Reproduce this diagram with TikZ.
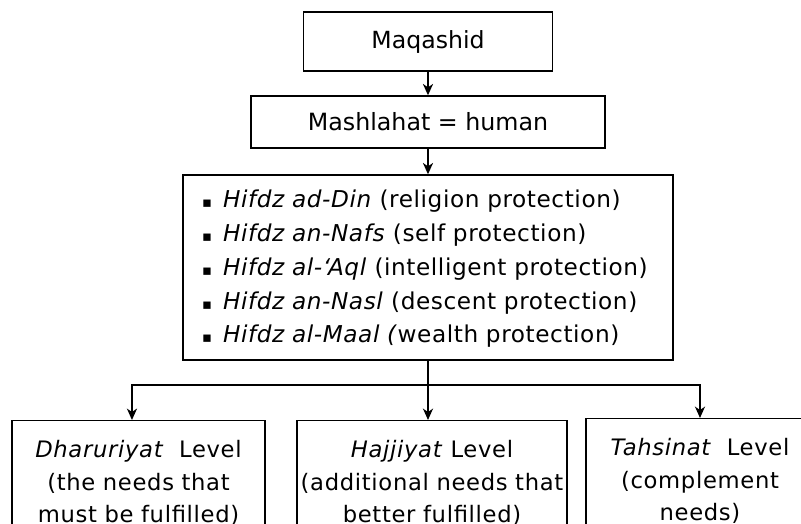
\documentclass[tikz,border=0pt]{standalone}
\usepackage{fontspec}
\setmainfont{DejaVu Sans}
\newfontfamily\listfont[LetterSpace=2.5]{DejaVu Sans}
\newfontfamily\levelfont[LetterSpace=3]{DejaVu Sans}
\usetikzlibrary{arrows.meta}
\newcommand{\sqbullet}{\makebox[15.75pt][l]{\fontsize{11}{11}\selectfont ▪}}

\begin{document}
\begin{tikzpicture}[x=0.75pt,y=-0.75pt,
    box/.style={draw, line width=1pt, inner sep=2pt},
    conn/.style={line width=1.5pt, -{Stealth[length=8.5pt,width=7.5pt,inset=2.5pt]}},
    level/.style={box, anchor=north, align=center, inner ysep=0pt,
        text height=27.75pt, text depth=100pt,
        font=\levelfont\fontsize{17}{24.4}\selectfont}]
    \useasboundingbox (0,0) rectangle (801,524);
    \clip (0,0) rectangle (801,524);

    % Draw nodes
    \node[box, minimum width=186.75pt, minimum height=44.25pt,
        font=\fontsize{17.7}{20}\selectfont] (maqashid) at (428,41.5) {Maqashid};
    \node[box, minimum width=265.5pt, minimum height=39pt,
        font=\fontsize{17.8}{20}\selectfont] (mashlahat) at (428,122) {Mashlahat = human};
    \node[box, inner xsep=14.25pt, inner ysep=0pt, text width=339pt, align=left,
        text height=24.75pt, text depth=114pt,
        font=\listfont\fontsize{17.4}{25.3}\selectfont] (list) at (428,267.5) {%
        \sqbullet\textit{Hifdz ad-Din} (religion protection)\\
        \sqbullet\textit{Hifdz an-Nafs} (self protection)\\
        \sqbullet\textit{Hifdz al-‘Aql} (intelligent protection)\\
        \sqbullet\textit{Hifdz an-Nasl} (descent protection)\\
        \sqbullet\textit{Hifdz al-Maal (}wealth protection)};

    \node[level, text width=185.75pt] (dharuriyat) at (138.5,420)
        {\textit{Dharuriyat}\ \ Level\\(the needs that\\must be fulfilled)};
    \node[level, text width=198.5pt] (hajjiyat) at (432,420)
        {\textit{Hajjiyat} Level\\(additional needs that\\better fulfilled)};
    \node[level, text width=167pt] (tahsinat) at (700,418)
        {\textit{Tahsinat}\ \ Level\\(complement\\needs)};

    \coordinate (split) at (428,385);

    % Draw connectors
    \draw[conn] (maqashid) -- (mashlahat);
    \draw[conn] (mashlahat) -- (list);
    \draw[conn] (list.south) -- (list.south |- hajjiyat.north);
    \draw[conn] (split) -| ([xshift=-4.9pt]dharuriyat.north);
    \draw[conn] (split) -| (tahsinat.north);
\end{tikzpicture}
\end{document}
